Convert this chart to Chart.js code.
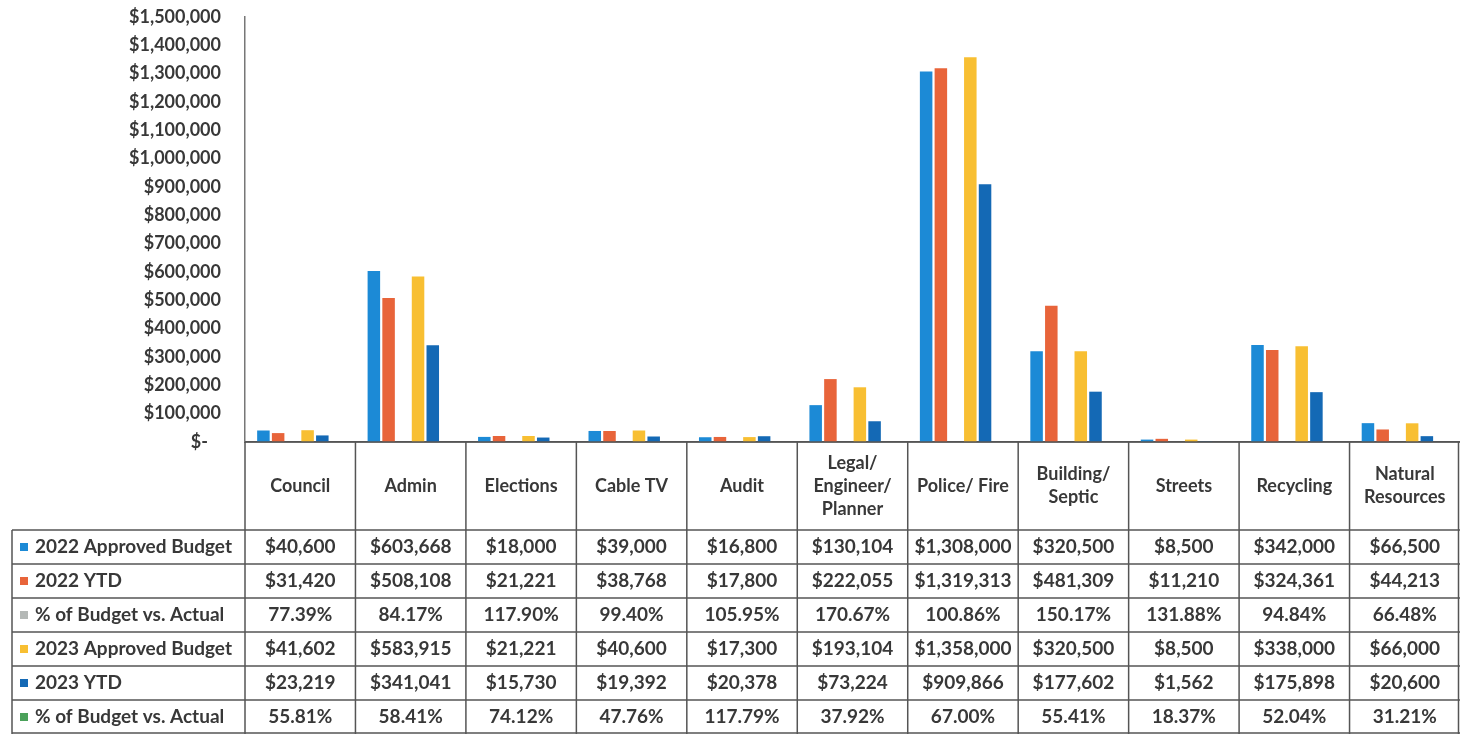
<!DOCTYPE html>
<html>
<head>
<meta charset="utf-8">
<script src="https://cdn.jsdelivr.net/npm/chart.js@4.4.1/dist/chart.umd.min.js"></script>
<style>
  html, body { margin: 0; padding: 0; background: #fff; }
  #budgetChart { display: block; }
</style>
</head>
<body>
<canvas id="budgetChart" width="1460" height="734"></canvas>
<script>
const departments = [
  'Council', 'Admin', 'Elections', 'Cable TV', 'Audit',
  ['Legal/', 'Engineer/', 'Planner'], 'Police/ Fire', ['Building/', 'Septic'],
  'Streets', 'Recycling', ['Natural', 'Resources']
];

const approved2022 = [40600, 603668, 18000, 39000, 16800, 130104, 1308000, 320500, 8500, 342000, 66500];
const ytd2022 = [31420, 508108, 21221, 38768, 17800, 222055, 1319313, 481309, 11210, 324361, 44213];
const pct2022 = [77.39, 84.17, 117.90, 99.40, 105.95, 170.67, 100.86, 150.17, 131.88, 94.84, 66.48];
const approved2023 = [41602, 583915, 21221, 40600, 17300, 193104, 1358000, 320500, 8500, 338000, 66000];
const ytd2023 = [23219, 341041, 15730, 19392, 20378, 73224, 909866, 177602, 1562, 175898, 20600];
const pct2023 = [55.81, 58.41, 74.12, 47.76, 117.79, 37.92, 67.00, 55.41, 18.37, 52.04, 31.21];

const yMax = 1500000;
const yStep = 100000;

const FONT = 'Lato, "Open Sans", sans-serif';
const TEXT = '#383838';
const LINE = '#555';

function money(v) {
  return '$' + v.toLocaleString('en-US');
}
function percent(v) {
  return v.toFixed(2) + '%';
}

// the percentage rows are plotted as ratios, same as the spreadsheet does
const series = [
  { label: '2022 Approved Budget', data: approved2022, color: '#1c8ad6', fmt: money },
  { label: '2022 YTD', data: ytd2022, color: '#e8643a', fmt: money },
  { label: '% of Budget vs. Actual', data: pct2022.map(v => v / 100), raw: pct2022, color: '#b4b8b6', fmt: percent },
  { label: '2023 Approved Budget', data: approved2023, color: '#f8bf32', fmt: money },
  { label: '2023 YTD', data: ytd2023, color: '#1469b5', fmt: money },
  { label: '% of Budget vs. Actual', data: pct2023.map(v => v / 100), raw: pct2023, color: '#4aa15a', fmt: percent }
];

const headerBottom = 530;
const rowHeight = 34;
const tableLeft = 12;

// draws the data table under the x axis, columns follow the category scale
const dataTable = {
  id: 'dataTable',
  afterDraw(chart) {
    const ctx = chart.ctx;
    const area = chart.chartArea;
    const xs = chart.scales.x;
    const colW = (area.right - area.left) / departments.length;
    const top = area.bottom;
    const bottom = headerBottom + rowHeight * series.length;

    ctx.save();
    ctx.strokeStyle = LINE;
    ctx.lineWidth = 1.5;

    // vertical lines
    ctx.beginPath();
    for (let i = 0; i <= departments.length; i++) {
      const x = Math.min(xs.getPixelForValue(i) - colW / 2, area.right - 1.5);
      ctx.moveTo(x, top);
      ctx.lineTo(x, bottom);
    }
    ctx.moveTo(tableLeft, headerBottom);
    ctx.lineTo(tableLeft, bottom);
    // horizontal lines
    ctx.moveTo(area.left, top);
    ctx.lineTo(area.right, top);
    for (let r = 0; r <= series.length; r++) {
      const y = Math.min(headerBottom + r * rowHeight, bottom - 1);
      ctx.moveTo(tableLeft, y);
      ctx.lineTo(area.right, y);
    }
    ctx.stroke();

    ctx.fillStyle = TEXT;
    ctx.font = 'bold 18px ' + FONT;
    ctx.textAlign = 'center';
    ctx.textBaseline = 'middle';

    // department names
    const midHeader = (top + headerBottom) / 2;
    departments.forEach((name, i) => {
      const lines = Array.isArray(name) ? name : [name];
      const cx = xs.getPixelForValue(i);
      lines.forEach((ln, k) => {
        ctx.fillText(ln, cx, midHeader + (k - (lines.length - 1) / 2) * 23);
      });
    });

    // rows
    ctx.font = 'bold 19px ' + FONT;
    series.forEach((s, r) => {
      const cy = headerBottom + r * rowHeight + rowHeight / 2;
      ctx.fillStyle = s.color;
      ctx.fillRect(20, cy - 4, 8, 8);
      ctx.fillStyle = TEXT;
      ctx.textAlign = 'left';
      ctx.fillText(s.label, 35, cy);
      ctx.textAlign = 'center';
      const vals = s.raw || s.data;
      vals.forEach((v, i) => {
        ctx.fillText(s.fmt(v), xs.getPixelForValue(i), cy);
      });
    });
    ctx.restore();
  }
};

new Chart(document.getElementById('budgetChart'), {
  type: 'bar',
  data: {
    labels: departments,
    datasets: series.map(s => ({
      label: s.label,
      data: s.data,
      backgroundColor: s.color,
      categoryPercentage: 0.8,
      barPercentage: 0.85
    }))
  },
  options: {
    responsive: false,
    animation: false,
    layout: { padding: { top: 17, right: 0, bottom: 292, left: 0 } },
    plugins: {
      legend: { display: false },
      tooltip: { enabled: false }
    },
    scales: {
      x: {
        ticks: { display: false },
        grid: { display: false, drawTicks: false },
        border: { display: true, color: LINE, width: 1.5 }
      },
      y: {
        min: 0,
        max: yMax,
        afterFit(scale) {
          scale.width = 245;
          // let the top label overhang so the scale starts near the edge
          scale.paddingTop = 0;
          scale.paddingBottom = 0;
        },
        ticks: {
          stepSize: yStep,
          padding: 24,
          color: TEXT,
          font: { family: FONT, size: 18, weight: 'bold' },
          callback: v => v === 0 ? '$-   ' : money(v)
        },
        grid: { display: false, drawTicks: false },
        border: { display: true, color: '#777', width: 1.5 }
      }
    }
  },
  plugins: [dataTable]
});
</script>
</body>
</html>
